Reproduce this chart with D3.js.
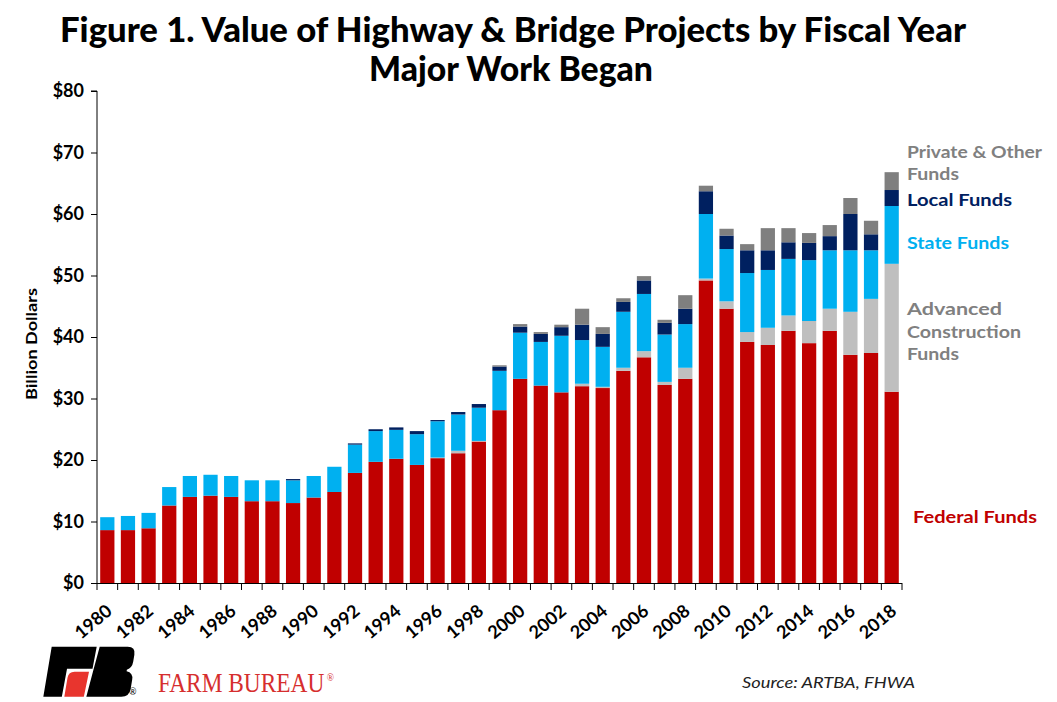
<!DOCTYPE html>
<html><head><meta charset="utf-8">
<script src="https://cdn.jsdelivr.net/npm/d3@7"></script>
<style>body{margin:0;background:#fff}svg{display:block}</style>
</head><body><svg id="c" width="1057" height="702"></svg>
<script>
const years = [1980,1981,1982,1983,1984,1985,1986,1987,1988,1989,1990,1991,1992,1993,1994,1995,1996,1997,1998,1999,2000,2001,2002,2003,2004,2005,2006,2007,2008,2009,2010,2011,2012,2013,2014,2015,2016,2017,2018];
const federal  = [8.6,8.6,8.9,12.6,14.0,14.2,14.0,13.3,13.3,13.0,13.9,14.8,17.9,19.7,20.2,19.2,20.3,21.1,23.0,28.1,33.2,32.1,31.0,32.0,31.7,34.5,36.7,32.2,33.2,49.2,44.6,39.2,38.7,41.0,39.0,41.0,37.1,37.4,31.1];
const advanced = [0,0,0,0,0,0,0,0,0,0,0,0,0,0,0,0,0.1,0.4,0.1,0,0,0,0,0.4,0.2,0.5,1.0,0.5,1.8,0.3,1.2,1.6,2.8,2.5,3.6,3.6,7.0,8.8,20.8];
const stateF   = [2.1,2.3,2.5,3.0,3.4,3.4,3.4,3.4,3.4,3.7,3.5,4.1,4.6,5.0,4.7,5.0,5.9,5.9,5.4,6.4,7.5,7.1,9.2,7.1,6.5,9.1,9.3,7.7,7.1,10.5,8.5,9.6,9.4,9.2,9.9,9.5,10.0,7.9,9.4];
const localF   = [0,0,0,0,0,0,0,0,0,0.2,0,0,0.2,0.3,0.4,0.5,0.2,0.4,0.6,0.7,1.0,1.3,1.4,2.5,2.1,1.6,2.2,1.9,2.5,3.7,2.2,3.7,3.2,2.7,2.8,2.3,5.9,2.6,2.6];
const privateF = [0,0,0,0,0,0,0,0,0,0,0,0,0,0,0,0,0,0,0,0.2,0.4,0.3,0.4,2.6,1.1,0.6,0.7,0.5,2.2,0.9,1.1,1.0,3.6,2.3,1.6,1.8,2.6,2.2,2.9];
const seriesKeys = ["federal","advanced","state","local","private"];
const seriesColors = ["#C00000","#BFBFBF","#00B0F0","#002060","#7F7F7F"];
const yTicks = [0,10,20,30,40,50,60,70,80];
const xTickLabels = [1980,1982,1984,1986,1988,1990,1992,1994,1996,1998,2000,2002,2004,2006,2008,2010,2012,2014,2016,2018];

const svg = d3.select("#c");
const F = "Lato, 'Open Sans', sans-serif";
const fit = (s, w) => s.attr("textLength", w).attr("lengthAdjust", "spacingAndGlyphs");

const rows = years.map((yr, i) => ({year: yr, federal: federal[i], advanced: advanced[i], state: stateF[i], local: localF[i], private: privateF[i]}));
const stacked = d3.stack().keys(seriesKeys)(rows);

const x = d3.scaleBand().domain(years).range([97, 902]).paddingInner(0.31).paddingOuter(0.155);
const y = d3.scaleLinear().domain([0, 80]).range([583, 91]);
const color = d3.scaleOrdinal().domain(seriesKeys).range(seriesColors);

// Title
fit(svg.append("text").attr("x", 513).attr("y", 42).attr("text-anchor", "middle")
  .attr("font-family", F).attr("font-weight", 900).attr("font-size", 35).attr("fill", "#000")
  .text("Figure 1. Value of Highway & Bridge Projects by Fiscal Year"), 906);
fit(svg.append("text").attr("x", 511).attr("y", 81).attr("text-anchor", "middle")
  .attr("font-family", F).attr("font-weight", 900).attr("font-size", 35).attr("fill", "#000")
  .text("Major Work Began"), 284);

// Bars
svg.append("g").selectAll("g").data(stacked).join("g")
  .attr("fill", d => color(d.key))
  .selectAll("rect").data(d => d.filter(p => p[1] - p[0] > 0)).join("rect")
  .attr("x", d => x(d.data.year))
  .attr("width", x.bandwidth())
  .attr("y", d => y(d[1]))
  .attr("height", d => y(d[0]) - y(d[1]));

// Y axis
const yAxis = svg.append("g").attr("transform", "translate(97,0)")
  .call(d3.axisLeft(y).tickValues(yTicks).tickSize(6).tickPadding(7).tickFormat(d => "$" + d));
yAxis.select(".domain").attr("stroke", "#000").attr("d", `M-6,${y(80)}H0V${y(0)}`);
yAxis.selectAll(".tick line").attr("stroke", "#000");
yAxis.selectAll(".tick text").attr("font-family", F).attr("font-weight", 700).attr("font-size", 18).attr("fill", "#000");

// X axis line and ticks at band boundaries
const gap = (x.step() - x.bandwidth()) / 2;
const bounds = years.map(yr => x(yr) - gap).concat([x(years[years.length - 1]) + x.bandwidth() + gap]);
svg.append("line").attr("x1", 97).attr("x2", bounds[bounds.length - 1]).attr("y1", y(0) + 0.5).attr("y2", y(0) + 0.5).attr("stroke", "#000");
svg.append("g").selectAll("line").data(bounds).join("line")
  .attr("x1", d => d).attr("x2", d => d).attr("y1", y(0)).attr("y2", y(0) + 7).attr("stroke", "#000");

// X labels
const xAxis = svg.append("g").attr("transform", `translate(0,${y(0)})`)
  .call(d3.axisBottom(x).tickValues(xTickLabels).tickSize(0).tickFormat(d => String(d)));
xAxis.select(".domain").remove();
xAxis.selectAll(".tick text")
  .attr("font-family", F).attr("font-weight", 700).attr("font-size", 18).attr("fill", "#000")
  .attr("text-anchor", "end").attr("dy", null).attr("y", null)
  .attr("transform", "translate(6,30) rotate(-40)");

// Y title
fit(svg.append("text").attr("transform", "translate(37,344) rotate(-90)").attr("text-anchor", "middle")
  .attr("font-family", F).attr("font-weight", 700).attr("font-size", 16).attr("fill", "#000")
  .text("Billion Dollars"), 112);

// Legend labels
const leg = (txt, lx, ly, col, w) => fit(svg.append("text").attr("x", lx).attr("y", ly)
  .attr("font-family", F).attr("font-weight", 700).attr("font-size", 17).attr("fill", col).text(txt), w);
leg("Private & Other", 907, 158, "#808080", 135);
leg("Funds", 907, 180, "#808080", 52);
leg("Local Funds", 907, 206, "#002060", 105);
leg("State Funds", 907, 249, "#00B0F0", 102);
leg("Advanced", 907, 315, "#808080", 95);
leg("Construction", 907, 338, "#808080", 114);
leg("Funds", 907, 360, "#808080", 52);
leg("Federal Funds", 913, 523, "#C00000", 124);

// Source
fit(svg.append("text").attr("x", 742).attr("y", 688).attr("font-family", F).attr("font-style", "italic")
  .attr("font-weight", 400).attr("font-size", 15).attr("fill", "#222").text("Source: ARTBA, FHWA"), 173);

// Farm Bureau logo
const logo = svg.append("g").attr("transform", "translate(51.7,646.7) skewX(-9.5)");
logo.append("path").attr("fill", "#000").attr("d", "M0,0 L45,0 L44.5,22 L19,22 L18.5,50 L0,50 Z");
logo.append("path").attr("fill", "#E8352E").attr("d", "M21,50 L21,31 Q21,25 27,25 L41.5,25 L40.5,50 Z");
logo.append("path").attr("fill", "#000").attr("d", "M48,0 L76,0 Q84,0 84,8 L84,15 Q84,21 79,23 L79,24.5 Q86,26 86,33 L86,42 Q86,50 78,50 L43,50 L45.5,24 Z");
svg.append("text").attr("x", 129).attr("y", 695).attr("font-family", F).attr("font-size", 9).attr("fill", "#000").text("®");
const fbg = svg.append("g").attr("transform", "translate(158,692) scale(0.865,1)");
const fbText = fbg.append("text").attr("x", 0).attr("y", 0).attr("font-family", "'Liberation Serif', 'Times New Roman', serif")
  .attr("font-size", 27).attr("fill", "#D62E2E").text("FARM BUREAU");
const fbW = fbText.node().getComputedTextLength();
fbg.append("text").attr("x", fbW + 3).attr("y", -11).attr("font-family", "'Liberation Serif', serif")
  .attr("font-size", 11).attr("fill", "#D62E2E").text("®");
</script></body></html>
